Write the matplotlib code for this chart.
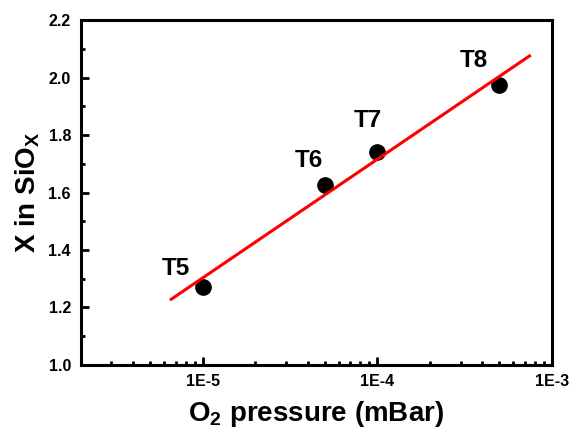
import math
import matplotlib
matplotlib.use("Agg")
import matplotlib.pyplot as plt
from matplotlib.ticker import LogLocator, FixedLocator, MultipleLocator, FuncFormatter, NullFormatter

# Data
pressure = [1e-5, 5e-5, 1e-4, 5e-4]
x_value = [1.27, 1.626, 1.742, 1.975]
sample_labels = ["T5", "T6", "T7", "T8"]
fit_pressure = [6.6e-6, 7.46e-4]
fit_x = [1.228, 2.076]

plt.rcParams['font.family'] = ['Liberation Sans', 'DejaVu Sans']
plt.rcParams['font.weight'] = 'bold'
plt.rcParams['mathtext.fontset'] = 'custom'
plt.rcParams['mathtext.rm'] = 'Liberation Sans:bold'
plt.rcParams['mathtext.bf'] = 'Liberation Sans:bold'
plt.rcParams['mathtext.it'] = 'Liberation Sans:bold'
plt.rcParams['mathtext.default'] = 'bf'

fig = plt.figure(figsize=(5.7, 4.34), dpi=100)
ax = fig.add_axes([0.1416, 0.1597, 0.968 - 0.1416, 0.9532 - 0.1597])

ax.plot(fit_pressure, fit_x, color='#ff0000', lw=2.2, zorder=3)
ax.plot(pressure, x_value, 'o', color='black', ms=11, zorder=2)

offsets = [(-27, 19), (-16, 25), (-9, 31), (-25, 24)]
for p, v, lab, off in zip(pressure, x_value, sample_labels, offsets):
    ax.annotate(lab, (p, v), xytext=off, textcoords='offset pixels',
                ha='center', va='center', fontsize=17.5, fontweight='bold')

ax.set_xscale('log')
ax.set_xlim(2e-6, 1e-3)
ax.set_ylim(1.0, 2.2)

ax.xaxis.set_major_locator(FixedLocator([1e-5, 1e-4, 1e-3]))
ax.xaxis.set_minor_locator(LogLocator(base=10, subs=range(2, 10)))
ax.xaxis.set_major_formatter(FuncFormatter(lambda v, p: "1E%d" % round(math.log10(v))))
ax.xaxis.set_minor_formatter(NullFormatter())
ax.yaxis.set_major_locator(MultipleLocator(0.2))
ax.yaxis.set_minor_locator(MultipleLocator(0.1))
ax.yaxis.set_major_formatter(FuncFormatter(lambda v, p: "%.1f" % v))

ax.tick_params(which='both', direction='in', width=2, top=False, right=False)
ax.tick_params(which='major', length=6, labelsize=11.5, pad=7)
ax.tick_params(which='minor', length=3)
for lab in ax.get_xticklabels() + ax.get_yticklabels():
    lab.set_fontweight('bold')
for s in ax.spines.values():
    s.set_linewidth(2.2)

ax.set_xlabel(r"O$_2$ pressure (mBar)", fontsize=20, fontweight='bold', labelpad=7)
ax.set_ylabel(r"X in SiO$_X$", fontsize=20, fontweight='bold', labelpad=5)

fig.savefig("out.png", dpi=100)
